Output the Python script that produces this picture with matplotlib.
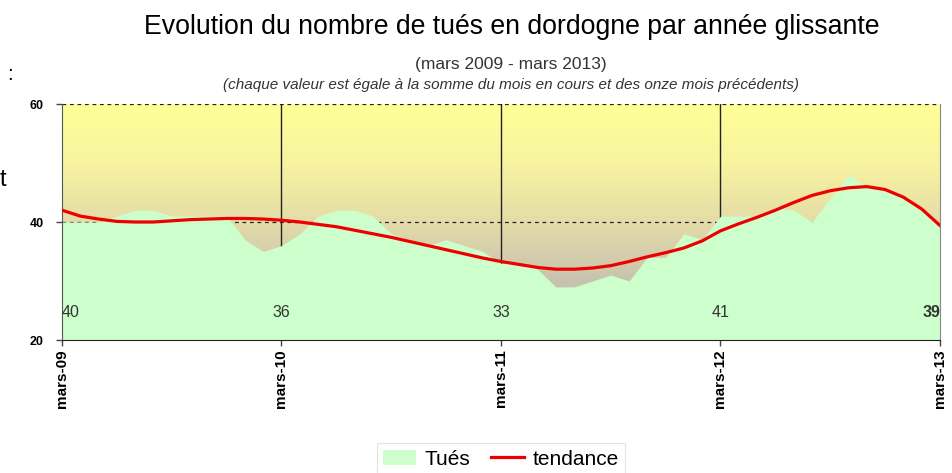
import matplotlib.pyplot as plt
import numpy as np
from matplotlib.colors import LinearSegmentedColormap

# monthly rolling 12-month totals, mars-09 .. mars-13
months = np.arange(49)
tues = [40, 40, 40, 41, 42, 42, 41, 41, 41, 41, 37, 35, 36,
        38, 41, 42, 42, 41, 38, 37, 36, 37, 36, 35, 33,
        33, 32, 29, 29, 30, 31, 30, 34, 34, 38, 37, 41,
        41, 41, 42.5, 42, 40, 44, 48, 46, 45.5, 44.2, 42.2, 39.4]
tendance = [42, 41, 40.5, 40.1, 40, 40, 40.2, 40.4, 40.5, 40.6, 40.6, 40.5, 40.3,
            40, 39.6, 39.2, 38.6, 38, 37.4, 36.7, 36, 35.3, 34.6, 33.9, 33.3,
            32.8, 32.3, 32, 32, 32.2, 32.6, 33.3, 34.1, 34.8, 35.6, 36.8, 38.5,
            39.7, 40.8, 42, 43.3, 44.5, 45.3, 45.8, 46, 45.5, 44.2, 42.2, 39.4]
tick_pos = [0, 12, 24, 36, 48]
tick_labels = ['mars-09', 'mars-10', 'mars-11', 'mars-12', 'mars-13']
label_vals = ['40', '36', '33', '41', '39']

plt.rcParams['font.family'] = ['Liberation Sans', 'DejaVu Sans']

fig = plt.figure(figsize=(9.53, 4.73), dpi=100)
ax = fig.add_axes([62 / 953, 1 - 340 / 473, 878 / 953, 236 / 473])

# gradient background, yellow at top to greyish tan at bottom
cmap = LinearSegmentedColormap.from_list('bg', [
    (0.0, (190/255, 185/255, 175/255)),
    (0.25, (200/255, 195/255, 175/255)),
    (0.5, (228/255, 220/255, 168/255)),
    (0.75, (248/255, 244/255, 160/255)),
    (1.0, (255/255, 255/255, 150/255))])
grad = np.linspace(0, 1, 256).reshape(-1, 1)
ax.imshow(grad, extent=[0, 48, 20, 60], origin='lower', aspect='auto', cmap=cmap, zorder=0)

# gridlines drawn behind the area
for y in [40, 60]:
    ax.axhline(y, color='#222222', linestyle=(0, (3, 3)), linewidth=0.9, zorder=1)
for x in [12, 24, 36]:
    ax.axvline(x, color='#222222', linewidth=1.0, zorder=1)

ax.fill_between(months, 20, tues, color='#ccffcc', linewidth=0, zorder=2, label='Tués')
ax.plot(months, tendance, color='#ee0000', linewidth=2.3, zorder=3, label='tendance')

for i, (p, v) in enumerate(zip(tick_pos, label_vals)):
    ha = 'left' if i == 0 else ('right' if i == len(tick_pos) - 1 else 'center')
    fw = 'bold' if i == len(tick_pos) - 1 else 'normal'
    ax.text(p, 24.7, v, ha=ha, va='center', fontsize=11.5, color='#333333',
            fontweight=fw, zorder=4, clip_on=True)

ax.set_xlim(0, 48)
ax.set_ylim(20, 60)
ax.set_yticks([20, 40, 60])
ax.set_yticklabels(['20', '40', '60'], fontsize=9, fontweight='bold')
ax.set_xticks(tick_pos)
ax.set_xticklabels(tick_labels, rotation=90, fontsize=11, fontweight='bold')
ax.tick_params(direction='out', length=4, width=1, color='#444444')
ax.tick_params(axis='y', pad=9)
ax.tick_params(axis='x', pad=3)
ax.spines['top'].set_visible(False)
ax.spines['right'].set_color('#888888')
ax.spines['left'].set_color('#555555')
ax.spines['bottom'].set_color('#222222')

fig.text(512 / 953, 1 - 27 / 473, 'Evolution du nombre de tués en dordogne par année glissante',
         ha='center', va='center', fontsize=19.2)
fig.text(511 / 953, 1 - 64 / 473, '(mars 2009 - mars 2013)',
         ha='center', va='center', fontsize=12.5, color='#333333')
fig.text(511 / 953, 1 - 85 / 473,
         '(chaque valeur est égale à la somme du mois en cours et des onze mois précédents)',
         ha='center', va='center', fontsize=11, style='italic', color='#333333')

# stray characters at the left edge of the screenshot
fig.text(10 / 953, 1 - 75 / 473, ':', ha='center', va='center', fontsize=15)
fig.text(0 / 953, 1 - 180 / 473, 't', ha='left', va='center', fontsize=17)

leg = fig.legend(loc='center', bbox_to_anchor=(501 / 953, 1 - 459 / 473), ncol=2,
                 fontsize=15, frameon=True, fancybox=False, edgecolor='#dddddd',
                 handlelength=1.6, handletextpad=0.4, columnspacing=1.0,
                 borderpad=0.3)
leg.get_frame().set_linewidth(0.8)

fig.savefig('out.png', dpi=100)
